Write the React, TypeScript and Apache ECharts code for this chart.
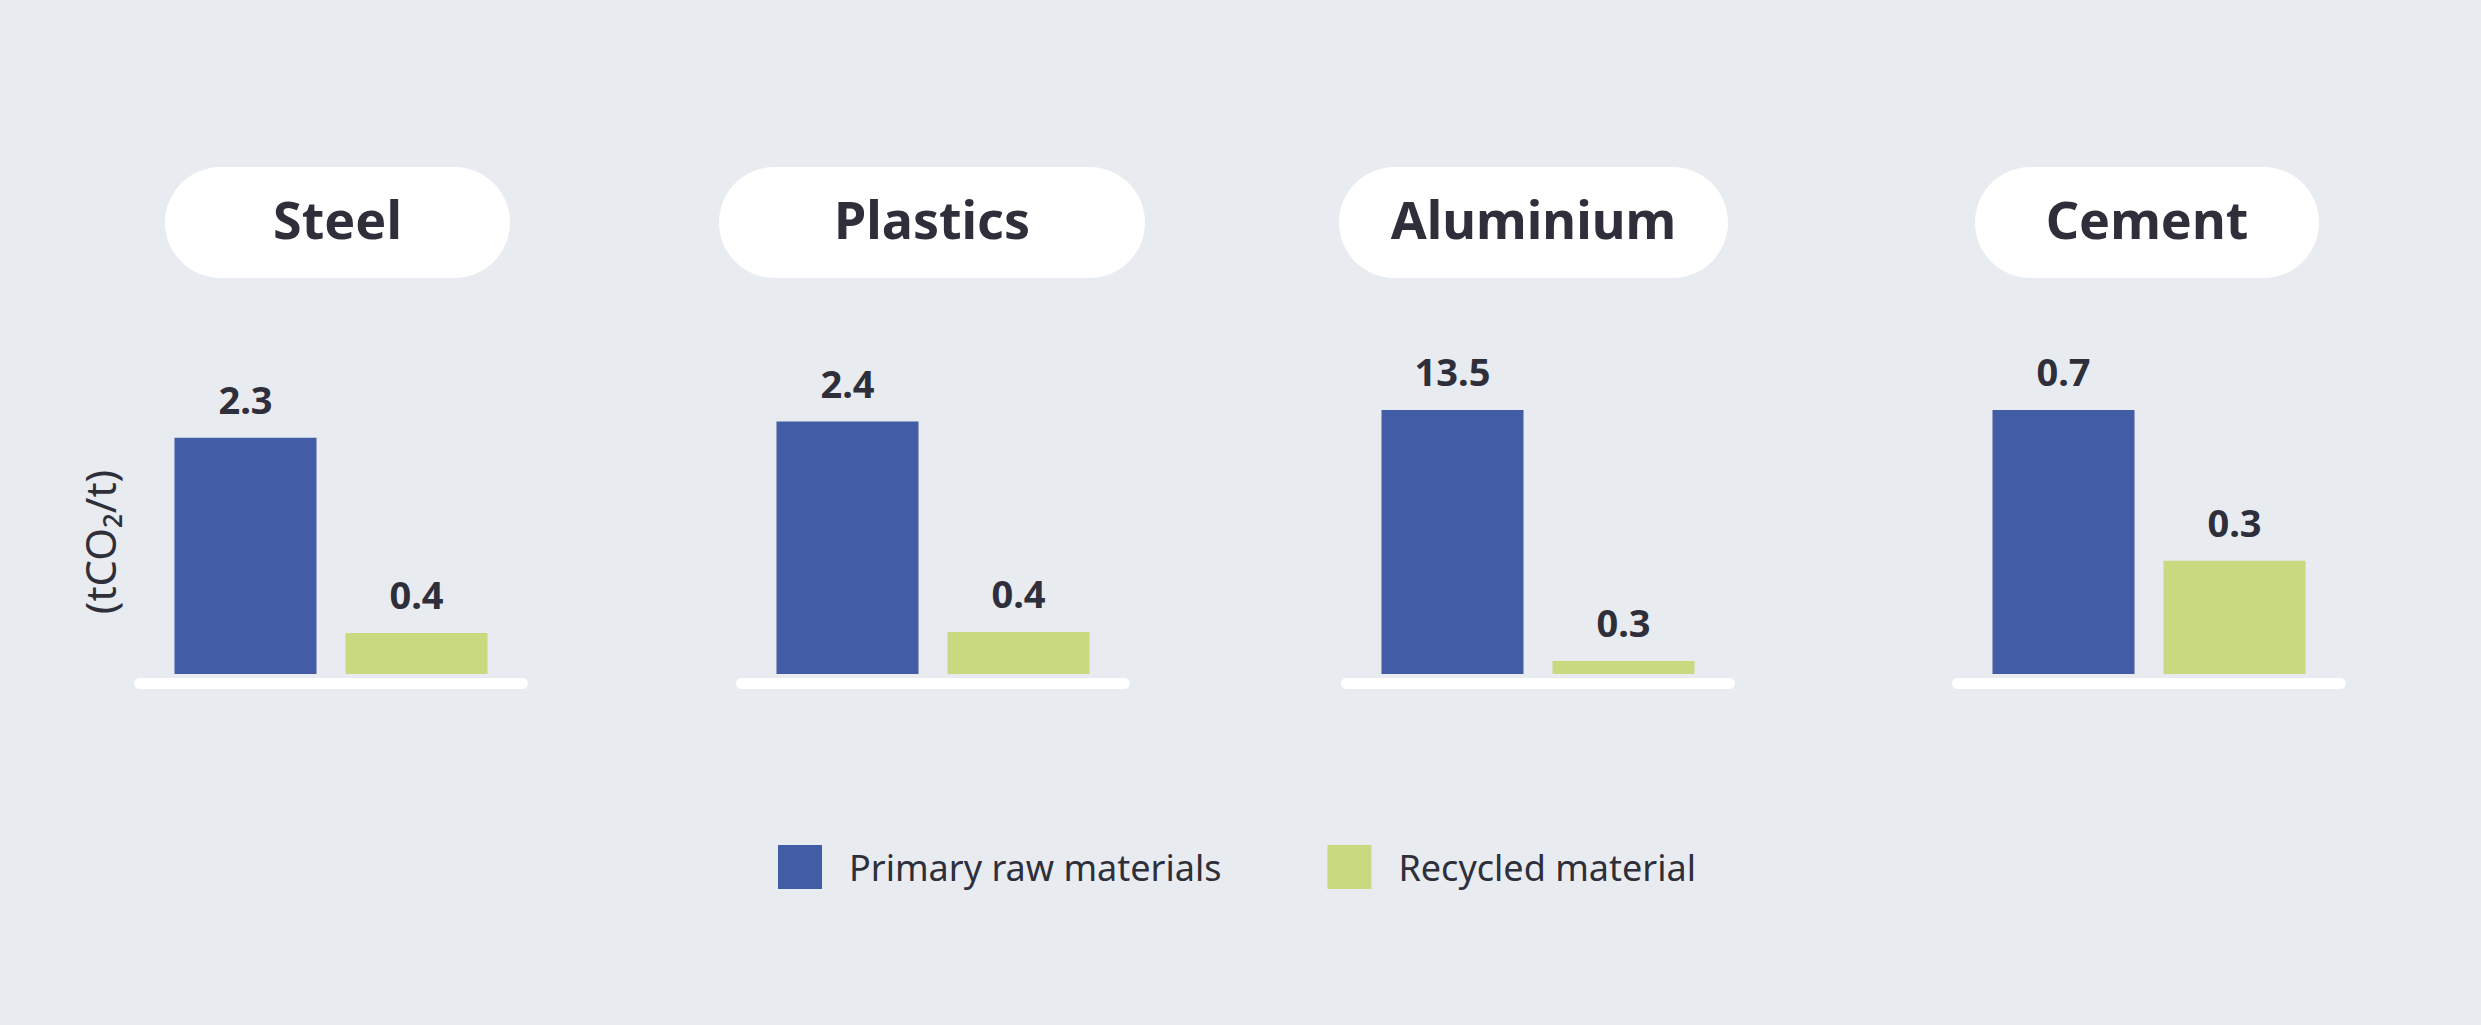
import React, { useEffect, useRef } from 'react';
import * as echarts from 'echarts';

// data
const materials = ['Steel', 'Plastics', 'Aluminium', 'Cement'];
const primaryValues = [2.3, 2.4, 13.5, 0.7];
const recycledValues = [0.4, 0.4, 0.3, 0.3];
const seriesNames = ['Primary raw materials', 'Recycled material'];
const axisMax = [2.57, 2.51, 13.5, 0.7];
const unitLabel = '(tCO₂/t)';

// layout
const GRID_LEFT = [160, 762, 1367, 1978];
const GRID_W = 342;
const GRID_TOP = 410;
const GRID_H = 264;
const PILLS = [
  [165, 510],
  [719, 1145],
  [1339, 1728],
  [1975, 2319],
];

const BLUE = '#425ca6';
const GREEN = '#c8da7f';
const INK = '#2e2f3a';
const FONT = '"Noto Sans", sans-serif';

const buildOption = () => {
  const grid = materials.map((_, i) => ({
    left: GRID_LEFT[i],
    top: GRID_TOP,
    width: GRID_W,
    height: GRID_H,
  }));

  const xAxis = materials.map((_, i) => ({
    type: 'category',
    gridIndex: i,
    data: seriesNames,
    show: false,
  }));

  const yAxis = materials.map((_, i) => ({
    type: 'value',
    gridIndex: i,
    min: 0,
    max: axisMax[i],
    show: i === 0,
    name: i === 0 ? unitLabel : '',
    nameLocation: 'middle',
    nameGap: 40,
    nameTextStyle: { fontSize: 42, color: INK, fontFamily: FONT },
    axisLine: { show: false },
    axisTick: { show: false },
    axisLabel: { show: false },
    splitLine: { show: false },
  }));

  const label = {
    show: true,
    position: 'top',
    distance: 20,
    fontSize: 38,
    fontWeight: 'bold',
    color: INK,
    fontFamily: FONT,
  };

  const series: any[] = [];
  materials.forEach((_, i) => {
    series.push({
      name: seriesNames[0],
      type: 'bar',
      xAxisIndex: i,
      yAxisIndex: i,
      barWidth: 142,
      barGap: '-100%',
      itemStyle: { color: BLUE },
      label,
      data: [primaryValues[i], '-'],
    });
    series.push({
      name: seriesNames[1],
      type: 'bar',
      xAxisIndex: i,
      yAxisIndex: i,
      barWidth: 142,
      barGap: '-100%',
      barMinHeight: 13,
      itemStyle: { color: GREEN },
      label,
      data: ['-', recycledValues[i]],
    });
  });

  const graphic: any[] = [];
  materials.forEach((name, i) => {
    const [x0, x1] = PILLS[i];
    graphic.push({
      type: 'rect',
      shape: { x: x0, y: 167, width: x1 - x0, height: 111, r: 55.5 },
      style: { fill: '#ffffff' },
      silent: true,
    });
    graphic.push({
      type: 'text',
      x: (x0 + x1) / 2,
      y: 218,
      style: {
        text: name,
        fontSize: 52,
        fontWeight: 'bold',
        fontFamily: FONT,
        fill: INK,
        align: 'center',
        verticalAlign: 'middle',
      },
      silent: true,
    });
    // white base line under each pair of bars
    graphic.push({
      type: 'rect',
      shape: { x: GRID_LEFT[i] - 26, y: GRID_TOP + GRID_H + 4, width: GRID_W + 52, height: 11, r: 5.5 },
      style: { fill: '#ffffff' },
      silent: true,
    });
  });

  return {
    animation: false,
    backgroundColor: '#e8ebf0',
    textStyle: { fontFamily: FONT },
    grid,
    xAxis,
    yAxis,
    legend: {
      data: seriesNames,
      left: 773,
      top: 840,
      icon: 'rect',
      itemWidth: 44,
      itemHeight: 44,
      itemGap: 106,
      selectedMode: false,
      textStyle: { fontSize: 36, color: INK, fontFamily: FONT, padding: [0, 0, 0, 22] },
    },
    graphic,
    series,
  };
};

const App: React.FC = () => {
  const chartRef = useRef<HTMLDivElement>(null);

  useEffect(() => {
    if (!chartRef.current) return;
    const chart = echarts.init(chartRef.current, undefined, { renderer: 'svg' });
    chart.setOption(buildOption());
    const handleResize = () => chart.resize();
    window.addEventListener('resize', handleResize);
    return () => {
      window.removeEventListener('resize', handleResize);
      chart.dispose();
    };
  }, []);

  return (
    <div
      ref={chartRef}
      style={{ position: 'fixed', left: 0, top: 0, width: '100vw', height: '100vh' }}
    />
  );
};

export default App;
